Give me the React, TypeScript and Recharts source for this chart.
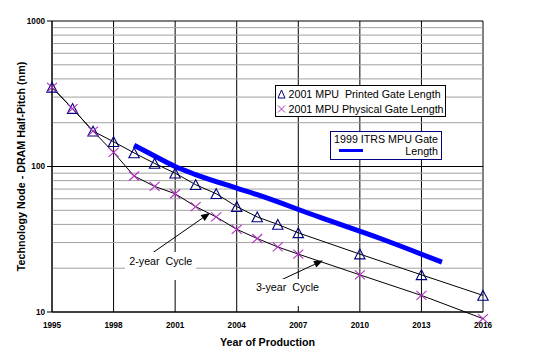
import { ComposedChart, Line, XAxis, YAxis, CartesianGrid, ReferenceLine } from "recharts";

const FONT = "'Liberation Sans', Arial, sans-serif";

// 2001 ITRS MPU gate lengths (nm)
const gateYears = [1995, 1996, 1997, 1998, 1999, 2000, 2001, 2002, 2003, 2004, 2005, 2006, 2007, 2010, 2013, 2016];
const printedGate = [350, 250, 175, 148, 124, 105, 90, 75, 65, 53, 45, 40, 35, 25, 18, 13];
const physicalGate = [350, 250, 175, 125, 86, 73, 65, 53, 45, 37, 32, 28, 25, 18, 13, 9];

// 1999 ITRS MPU gate length
const itrsYears = [1999, 2000, 2001, 2002, 2004, 2005, 2008, 2011, 2014];
const itrsGate = [140, 118, 100, 88, 71, 64, 45, 32, 22];

const yearTicks = [1995, 1998, 2001, 2004, 2007, 2010, 2013, 2016];
const valueTicks = [10, 100, 1000];
const minorTicks = [20, 30, 40, 50, 60, 70, 80, 90, 200, 300, 400, 500, 600, 700, 800, 900];

// annotation arrows, in data units (year, nm)
const twoYearArrow = [{ x: 1999.9, y: 25.5 }, { x: 2002.7, y: 48 }];
const threeYearArrow = [{ x: 2006.2, y: 16.7 }, { x: 2008.2, y: 22.6 }];

const printedData = gateYears.map((year, i) => ({ year, value: printedGate[i] }));
const physicalData = gateYears.map((year, i) => ({ year, value: physicalGate[i] }));
const itrsData = itrsYears.map((year, i) => ({ year, value: itrsGate[i] }));

const NAVY = "#000080";
const PURPLE = "#b030c0";
const BLUE = "#0000ff";

function TriangleDot({ cx, cy }: { cx?: number; cy?: number }) {
	if (cx == null || cy == null) return null;
	return (
		<polygon
			points={`${cx},${cy - 5} ${cx + 5.2},${cy + 4.8} ${cx - 5.2},${cy + 4.8}`}
			fill="none"
			stroke={NAVY}
			strokeWidth={1.1}
		/>
	);
}

function CrossDot({ cx, cy }: { cx?: number; cy?: number }) {
	if (cx == null || cy == null) return null;
	return (
		<g stroke={PURPLE} strokeWidth={1.1}>
			<line x1={cx - 5} y1={cy - 4.5} x2={cx + 5} y2={cy + 4.5} />
			<line x1={cx - 5} y1={cy + 4.5} x2={cx + 5} y2={cy - 4.5} />
		</g>
	);
}

function Arrow(props: any) {
	const { x1, y1, x2, y2 } = props;
	if ([x1, y1, x2, y2].some((v) => v == null)) return null;
	const ang = Math.atan2(y2 - y1, x2 - x1);
	const len = 9;
	const half = 3.6;
	const bx = x2 - len * Math.cos(ang);
	const by = y2 - len * Math.sin(ang);
	const px = -Math.sin(ang) * half;
	const py = Math.cos(ang) * half;
	return (
		<g>
			<line x1={x1} y1={y1} x2={bx} y2={by} stroke="#000" strokeWidth={1} />
			<polygon points={`${x2},${y2} ${bx + px},${by + py} ${bx - px},${by - py}`} fill="#000" />
		</g>
	);
}

export default function App() {
	return (
		<div
			style={{
				position: "fixed",
				left: 0,
				top: 0,
				width: 533,
				height: 364,
				background: "#fff",
				fontFamily: FONT,
				color: "#000",
			}}
		>
			{/* let markers at the plot edges (and the 9 nm point) spill over like Excel does */}
			<style>{`.recharts-surface [clip-path]{clip-path:none}`}</style>
			<ComposedChart
				width={533}
				height={364}
				margin={{ top: 21, right: 50, bottom: 0, left: 0 }}
				style={{ fontFamily: FONT }}
			>
				{minorTicks.map((v) => (
					<ReferenceLine key={v} y={v} stroke="#a0a0a0" strokeWidth={1} />
				))}
				<CartesianGrid stroke="#000" strokeWidth={1} />
				<XAxis
					type="number"
					dataKey="year"
					domain={[1995, 2016]}
					ticks={yearTicks}
					interval={0}
					tickLine={false}
					tickSize={6}
					tickMargin={4}
					axisLine={{ stroke: "#000" }}
					tick={{ fontSize: 8.2, fontWeight: "bold", fill: "#000" }}
					height={52}
					label={{
						value: "Year of Production",
						position: "insideBottom",
						offset: 18,
						style: { fontSize: 10.7, fontWeight: "bold", fill: "#000" },
					}}
				/>
				<YAxis
					type="number"
					scale="log"
					domain={[10, 1000]}
					allowDataOverflow
					ticks={valueTicks}
					interval={0}
					width={52}
					tickSize={5}
					tickMargin={2}
					tickLine={{ stroke: "#000" }}
					axisLine={{ stroke: "#000" }}
					tick={{ fontSize: 8.2, fontWeight: "bold", fill: "#000" }}
					label={{
						value: "Technology Node - DRAM Half-Pitch (nm)",
						angle: -90,
						position: "insideLeft",
						offset: 21,
						style: { textAnchor: "middle", fontSize: 10.7, fontWeight: "bold", fill: "#000" },
					}}
				/>
				<Line
					data={itrsData}
					dataKey="value"
					type="monotone"
					stroke={BLUE}
					strokeWidth={5}
					dot={false}
					activeDot={false}
					isAnimationActive={false}
				/>
				<Line
					data={printedData}
					dataKey="value"
					type="linear"
					stroke="#000"
					strokeWidth={1}
					dot={(p: any) => <TriangleDot key={`t-${p.index}`} cx={p.cx} cy={p.cy} />}
					activeDot={false}
					isAnimationActive={false}
				/>
				<Line
					data={physicalData}
					dataKey="value"
					type="linear"
					stroke="#000"
					strokeWidth={1}
					dot={(p: any) => <CrossDot key={`x-${p.index}`} cx={p.cx} cy={p.cy} />}
					activeDot={false}
					isAnimationActive={false}
				/>
				<ReferenceLine segment={twoYearArrow} shape={Arrow} />
				<ReferenceLine segment={threeYearArrow} shape={Arrow} />
			</ComposedChart>

			{/* legend: 2001 series */}
			<div
				style={{
					position: "absolute",
					left: 275,
					top: 85,
					width: 171,
					height: 32,
					boxSizing: "border-box",
					border: "1px solid #000",
					background: "#fff",
					fontSize: 10.7,
				}}
			>
				<div style={{ display: "flex", alignItems: "center", height: 15.5 }}>
					<svg width={11} height={12} style={{ flexShrink: 0 }}>
						<polygon points="5.5,2 9,10 2,10" fill="none" stroke={NAVY} strokeWidth={1} />
					</svg>
					<span style={{ whiteSpace: "pre", marginLeft: 1.5 }}>2001 MPU  Printed Gate Length</span>
				</div>
				<div style={{ display: "flex", alignItems: "center", height: 15.5 }}>
					<svg width={11} height={12} style={{ flexShrink: 0 }}>
						<g stroke={PURPLE} strokeWidth={1}>
							<line x1={2} y1={2.5} x2={9} y2={9.5} />
							<line x1={2} y1={9.5} x2={9} y2={2.5} />
						</g>
					</svg>
					<span style={{ whiteSpace: "pre", marginLeft: 1.5 }}>2001 MPU Physical Gate Length</span>
				</div>
			</div>

			{/* legend: 1999 ITRS */}
			<div
				style={{
					position: "absolute",
					left: 330,
					top: 131,
					width: 112,
					height: 29,
					boxSizing: "border-box",
					border: `1px solid ${NAVY}`,
					background: "#fff",
					fontSize: 10.7,
					lineHeight: "12px",
					paddingTop: 1,
					paddingRight: 3,
					textAlign: "right",
				}}
			>
				<div>1999 ITRS MPU Gate</div>
				<div>Length</div>
				<div
					style={{
						position: "absolute",
						left: 8,
						top: 16.8,
						width: 24,
						height: 3,
						background: BLUE,
					}}
				/>
			</div>

			{/* cycle annotations */}
			<div
				style={{
					position: "absolute",
					left: 125,
					top: 252,
					width: 71,
					height: 28,
					boxSizing: "border-box",
					background: "#fff",
					fontSize: 10.7,
					lineHeight: "12px",
					paddingLeft: 4.3,
					paddingTop: 2.7,
					whiteSpace: "pre",
				}}
			>
				2-year  Cycle
			</div>
			<div
				style={{
					position: "absolute",
					left: 252,
					top: 279,
					width: 73,
					height: 27,
					boxSizing: "border-box",
					background: "#fff",
					fontSize: 10.7,
					lineHeight: "12px",
					paddingLeft: 4,
					paddingTop: 2.3,
					whiteSpace: "pre",
				}}
			>
				3-year  Cycle
			</div>
		</div>
	);
}
